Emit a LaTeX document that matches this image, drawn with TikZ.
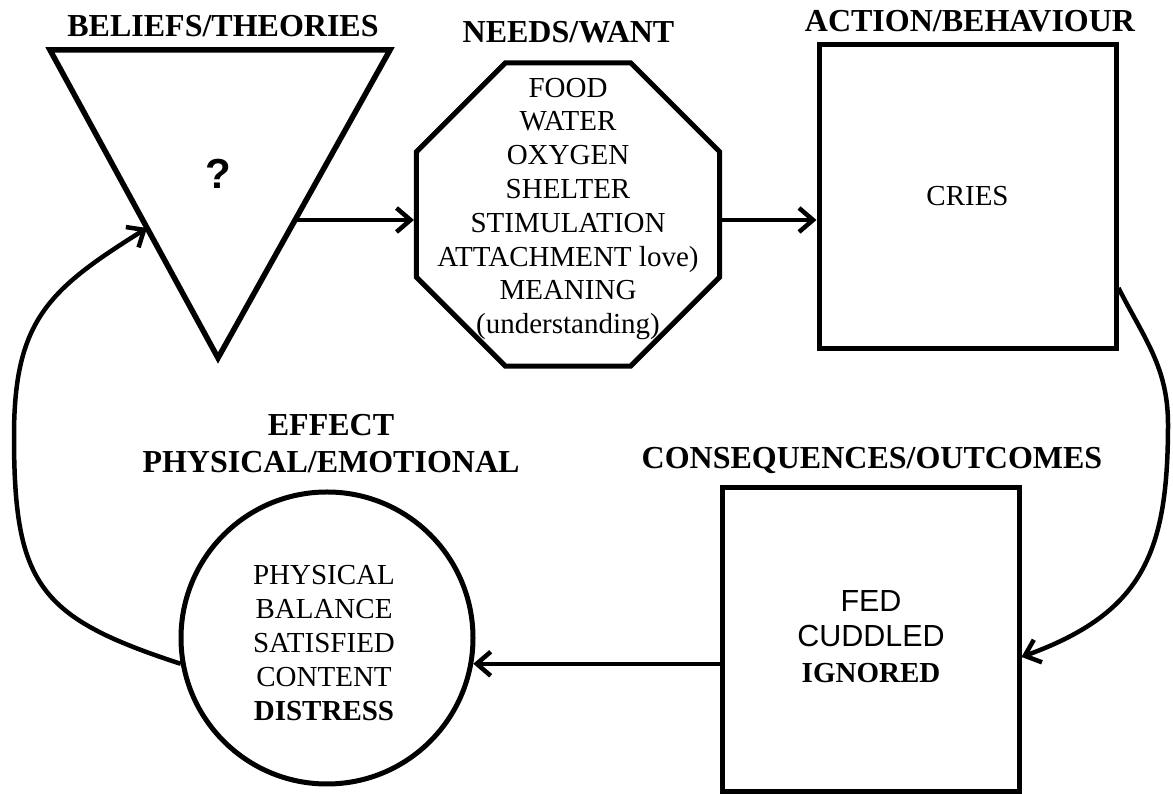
\documentclass[tikz,border=0pt]{standalone}
\usepackage{fontspec}
\setmainfont{Liberation Serif}
\newfontfamily\arialf{Liberation Sans}
\usetikzlibrary{shapes.geometric,arrows.meta}
\begin{document}
\begin{tikzpicture}[x=1pt,y=1pt,
  hdr/.style={font=\bfseries\fontsize{32}{37}\selectfont, align=center, inner sep=0pt},
  body/.style={font=\fontsize{29}{34}\selectfont, align=center, inner sep=0pt},
  boxnode/.style={draw, line width=5pt, rectangle, minimum width=297pt, minimum height=304pt, inner sep=0pt},
  arr/.style={line width=4.5pt, -{Straight Barb[length=14pt,width=24pt]}},
  shapeline/.style={line width=5.5pt, line join=miter}]
\useasboundingbox (0,0) rectangle (1173,794);
\fill[white] (0,0) rectangle (1173,794);

% Beliefs / theories
\node[hdr] (hbel) at (223,768) {BELIEFS/THEORIES};
\draw[shapeline] (50,744) -- (390,744) -- (218,436) -- cycle;
\node[font=\arialf\bfseries\fontsize{42}{48}\selectfont, inner sep=0pt] (q) at (218,620) {?};
\coordinate (tp) at (295,574);
\coordinate (tl) at (147,566);

% Needs / want
\node[hdr] (hneed) at (568.5,762) {NEEDS/WANT};
\node[draw, regular polygon, regular polygon sides=8, minimum size=328pt, inner sep=0pt, line width=5pt] (need) at (568,579.5) {};
\node[body, font=\fontsize{29}{33.8}\selectfont] (needtxt) at (568,585) {FOOD\\WATER\\OXYGEN\\SHELTER\\STIMULATION\\ATTACHMENT love)\\MEANING\\(understanding)};

% Action / behaviour
\node[hdr] (hact) at (970,773) {ACTION/BEHAVIOUR};
\node[boxnode, body] (act) at (967.5,597.5) {CRIES};

% Consequences / outcomes
\node[hdr] (hcons) at (872,333) {CONSEQUENCES/OUTCOMES};
\node[boxnode] (cons) at (870.5,154) {};
\node[inner sep=0pt, align=center, font=\fontsize{30.5}{35.5}\selectfont] (constxt) at (871,157.5) {{\arialf FED}\\{\arialf CUDDLED}\\{\bfseries\fontsize{29}{35.5}\selectfont IGNORED}};

% Effect
\node[hdr] (heff) at (331,350.5) {EFFECT\\PHYSICAL/EMOTIONAL};
\node[draw, circle, line width=5pt, minimum size=292pt, inner sep=0pt] (eff) at (327,156) {};
\node[body, font=\fontsize{29}{34.2}\selectfont] (efftxt) at (324,151) {PHYSICAL\\BALANCE\\SATISFIED\\CONTENT\\\textbf{DISTRESS}};

% connectors
\coordinate (rt) at (1168,370);
\coordinate (lf) at (14,358);
\draw[arr] (tp) -- (tp -| need.west);
\draw[arr] (need.east |- tp) -- (act.west |- tp);
\draw[arr] ([yshift=-91.5pt]act.east) to[out=-63,in=90] (rt) to[out=-90,in=20,looseness=1.2] ([yshift=-17pt]cons.east);
\draw[arr] (cons.west |- eff.-10) -- (eff.-10);
\draw[arr] (eff.190) to[out=162,in=-90,looseness=1.35] (lf) to[out=90,in=212,looseness=1.2] (tl);
\end{tikzpicture}
\end{document}
